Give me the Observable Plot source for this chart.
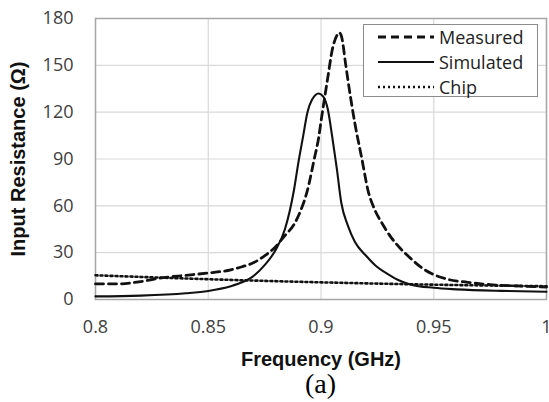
<!DOCTYPE html>
<html><head><meta charset="utf-8">
<script src="https://cdn.jsdelivr.net/npm/d3@7"></script>
<script src="https://cdn.jsdelivr.net/npm/@observablehq/plot@0.6"></script>
<style>
body{margin:0;background:#fff;}
#wrap{position:relative;width:549px;height:402px;font-family:"Open Sans",sans-serif;overflow:hidden;}
#chart{position:absolute;left:0;top:0;}
#cap{position:absolute;left:95px;width:451px;top:369px;line-height:30px;text-align:center;font-family:"Liberation Serif",serif;font-size:28px;color:#000;}
#legend{position:absolute;left:363px;top:24px;width:173px;height:71px;border:1.5px solid #8c8c8c;background:#fff;}
.row{position:absolute;left:0;height:24px;width:173px;}
.row svg{position:absolute;left:14px;top:0;}
.row span{position:absolute;left:75px;top:0;line-height:24px;font-size:18px;color:#222;}
</style></head>
<body>
<div id="wrap">
<div id="chart"></div>
<div id="legend"></div>
<div id="cap">(a)</div>
</div>
<script>
// Measured
const measFreq = [0.80,0.81,0.82,0.83,0.84,0.85,0.86,0.865,0.87,0.875,0.88,0.884,0.888,0.891,0.894,0.897,0.899,0.900,0.903,0.905,0.907,0.908,0.909,0.911,0.912,0.915,0.918,0.921,0.924,0.927,0.931,0.935,0.94,0.945,0.95,0.956,0.965,0.975,0.99,1.0];
const measR    = [10,10,11.5,14,15.5,17,19,21,23.5,28,34,41,48,57,70,90,104,114,142,160,169,171,169,150,140,113,91,69,57,49,40,33,26,20,16,13,11,9.5,8.5,8];
// Simulated
const simFreq = [0.80,0.82,0.84,0.85,0.86,0.865,0.87,0.875,0.88,0.884,0.888,0.890,0.892,0.894,0.896,0.899,0.901,0.903,0.905,0.907,0.909,0.912,0.915,0.92,0.924,0.93,0.935,0.94,0.95,0.96,0.98,1.0];
const simR    = [2,2.5,4,5.5,8.5,11,15,22,32,45,70,88,104,120,128,132,130,122,104,84,62,47,37,28,22,16,12,9.5,7.5,6.5,5.5,5];
// Chip
const chipFreq = [0.80,0.85,0.90,0.95,1.0];
const chipR    = [15.5,13,11,9.5,8.5];

const xTicks = [0.8,0.85,0.9,0.95,1.0];
const xTickLabels = ["0.8","0.85","0.9","0.95","1"];
const yTicks = [0,30,60,90,120,150,180];
const seriesNames = ["Measured","Simulated","Chip"];
const xTitle = "Frequency (GHz)";
const yTitle = "Input Resistance (\u03A9)";

const toRows = (fs, rs) => fs.map((f,i)=>({f, r: rs[i]}));
const styles = {
  Measured: {strokeWidth: 2.8, strokeDasharray: "8,5"},
  Simulated: {strokeWidth: 2.1, strokeDasharray: null},
  Chip: {strokeWidth: 2.6, strokeDasharray: "2,3"}
};

const chart = Plot.plot({
  width: 549, height: 372,
  marginLeft: 95, marginRight: 3, marginTop: 18, marginBottom: 73,
  x: {domain: [0.8, 1.0]},
  y: {domain: [0, 180]},
  style: {fontFamily: "'Open Sans', sans-serif", fontSize: "18px", color: "#404040", background: "#fff", overflow: "visible"},
  marks: [
    Plot.gridX(xTicks, {stroke: "#d9d9d9", strokeOpacity: 1, strokeWidth: 1.2}),
    Plot.gridY(yTicks, {stroke: "#d9d9d9", strokeOpacity: 1, strokeWidth: 1.2}),
    Plot.frame({stroke: "#a6a6a6", strokeWidth: 1.5}),
    Plot.axisX(xTicks, {tickSize: 0, tickPadding: 21, label: null, tickFormat: (d, i) => xTickLabels[i]}),
    Plot.axisY(yTicks, {tickSize: 0, tickPadding: 22, label: null}),
    Plot.line(toRows(chipFreq, chipR), {x: "f", y: "r", stroke: "#111", ...styles.Chip, curve: "monotone-x"}),
    Plot.line(toRows(simFreq, simR), {x: "f", y: "r", stroke: "#111", ...styles.Simulated, curve: "monotone-x"}),
    Plot.line(toRows(measFreq, measR), {x: "f", y: "r", stroke: "#111", ...styles.Measured, curve: "monotone-x"}),
    Plot.text([xTitle], {frameAnchor: "bottom", dy: 60, textAnchor: "middle", lineAnchor: "middle", text: d => d, fontFamily: "'Liberation Sans', Arial, sans-serif", fontWeight: "bold", fontSize: 20, fill: "#111"}),
    Plot.text([yTitle], {frameAnchor: "left", dx: -77, textAnchor: "middle", lineAnchor: "middle", rotate: -90, text: d => d, fontFamily: "'Liberation Sans', Arial, sans-serif", fontWeight: "bold", fontSize: 20, fill: "#111"})
  ]
});
document.getElementById("chart").appendChild(chart);

const legend = document.getElementById("legend");
seriesNames.forEach((name, i) => {
  const row = document.createElement("div");
  row.className = "row";
  row.style.top = (i * 25) + "px";
  const s = styles[name];
  row.innerHTML = `<svg width="56" height="24"><line x1="0" x2="56" y1="12" y2="12" stroke="#111" stroke-width="${s.strokeWidth}" ${s.strokeDasharray ? `stroke-dasharray="${s.strokeDasharray}"` : ""}/></svg><span>${name}</span>`;
  legend.appendChild(row);
});
</script>
</body></html>
